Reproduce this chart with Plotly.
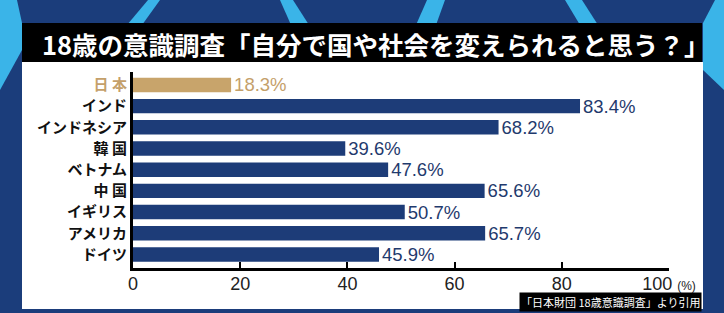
import plotly.graph_objects as go

W, H = 724, 313

countries = ["日 本", "インド", "インドネシア", "韓 国", "ベトナム", "中 国", "イギリス", "アメリカ", "ドイツ"]
values = [18.3, 83.4, 68.2, 39.6, 47.6, 65.6, 50.7, 65.7, 45.9]
x_ticks = [0, 20, 40, 60, 80, 100]
title = "18歳の意識調査「自分で国や社会を変えられると思う？」"
source = "「日本財団 18歳意識調査」より引用"
unit = "(%)"


def px(x):
    return x / W


def py(y):
    return 1 - y / H


NAVY = "#1d3c78"
GOLD = "#c8a46b"
BG = "#1b3d7b"
CYAN = "#3ab4e8"
JP_FONT = "Noto Sans CJK JP"
NUM_FONT = "Liberation Sans, Arial, sans-serif"

bar_colors = [GOLD] + [NAVY] * (len(values) - 1)
text_colors = ["#c4a06a"] + ["#1f3a6d"] * (len(values) - 1)
tick_text = [f'<span style="color:#c4a06a">{countries[0]}</span>'] + countries[1:]
x_tick_text = [str(t) for t in x_ticks[:-1]] + [
    f'{x_ticks[-1]} <span style="font-size:12px">{unit}</span>'
]

fig = go.Figure(
    go.Bar(
        x=values,
        y=list(range(len(values))),
        orientation="h",
        width=0.68,
        marker=dict(color=bar_colors, line=dict(width=0)),
        text=[f"{v:.1f}%" for v in values],
        textposition="outside",
        textfont=dict(size=18.5, color=text_colors, family=NUM_FONT),
        constraintext="none",
        cliponaxis=False,
        hoverinfo="skip",
    )
)


def poly(pts):
    return "M " + " L ".join(f"{px(x)},{py(y)}" for x, y in pts) + " Z"


stripes = [
    [(0, 0), (17, 0), (22, 23), (22, 50), (0, 90)],
    [(148, 0), (160, 0), (142, 25), (127, 25)],
    [(280, 0), (293, 0), (309, 25), (291, 25)],
    [(427, 0), (445, 0), (436, 25), (416, 25)],
    [(565, 0), (582, 0), (598, 25), (580, 25)],
    [(715, 0), (724, 0), (724, 90), (703, 70), (703, 23)],
]
shapes = [
    dict(type="path", path=poly(s), xref="paper", yref="paper", fillcolor=CYAN,
         line=dict(width=0), layer="below")
    for s in stripes
]
shapes.append(dict(type="rect", xref="paper", yref="paper", x0=px(22), x1=px(702),
                   y0=py(62), y1=py(23), fillcolor="black", line=dict(width=0), layer="below"))
shapes.append(dict(type="rect", xref="paper", yref="paper", x0=px(22), x1=px(703),
                   y0=py(309), y1=py(62), fillcolor="white", line=dict(width=0), layer="below"))

annotations = [
    dict(text=title, xref="paper", yref="paper", x=px(376), y=py(43), showarrow=False,
         xanchor="center", yanchor="middle",
         font=dict(size=25.5, color="white", family=JP_FONT, weight="bold")),
    dict(text=source, xref="paper", yref="paper", x=px(702), y=py(302), showarrow=False,
         xanchor="right", yanchor="middle", bgcolor="black", borderpad=1,
         font=dict(size=11, color="white", family=JP_FONT)),
]

fig.update_layout(
    width=W, height=H,
    margin=dict(l=0, r=0, t=0, b=0, autoexpand=False),
    paper_bgcolor=BG,
    plot_bgcolor="rgba(0,0,0,0)",
    showlegend=False,
    shapes=shapes,
    annotations=annotations,
    xaxis=dict(
        domain=[px(133), px(669)], range=[0, 100], automargin=False,
        tickvals=x_ticks, ticktext=x_tick_text,
        ticks="inside", ticklen=6, tickwidth=2, tickcolor="black",
        showline=True, linewidth=3, linecolor="black",
        showgrid=False, zeroline=False, ticklabelstandoff=-3,
        tickfont=dict(size=18, color="#222", family=NUM_FONT),
    ),
    yaxis=dict(
        domain=[py(268), py(72)], range=[8.64, -0.61], automargin=False,
        tickvals=list(range(len(countries))), ticktext=tick_text,
        ticks="", showline=True, linewidth=3, linecolor="black",
        showgrid=False, zeroline=False,
        tickfont=dict(size=15, color="#111", family=JP_FONT, weight="bold"),
    ),
)

fig.write_html("out.html")
